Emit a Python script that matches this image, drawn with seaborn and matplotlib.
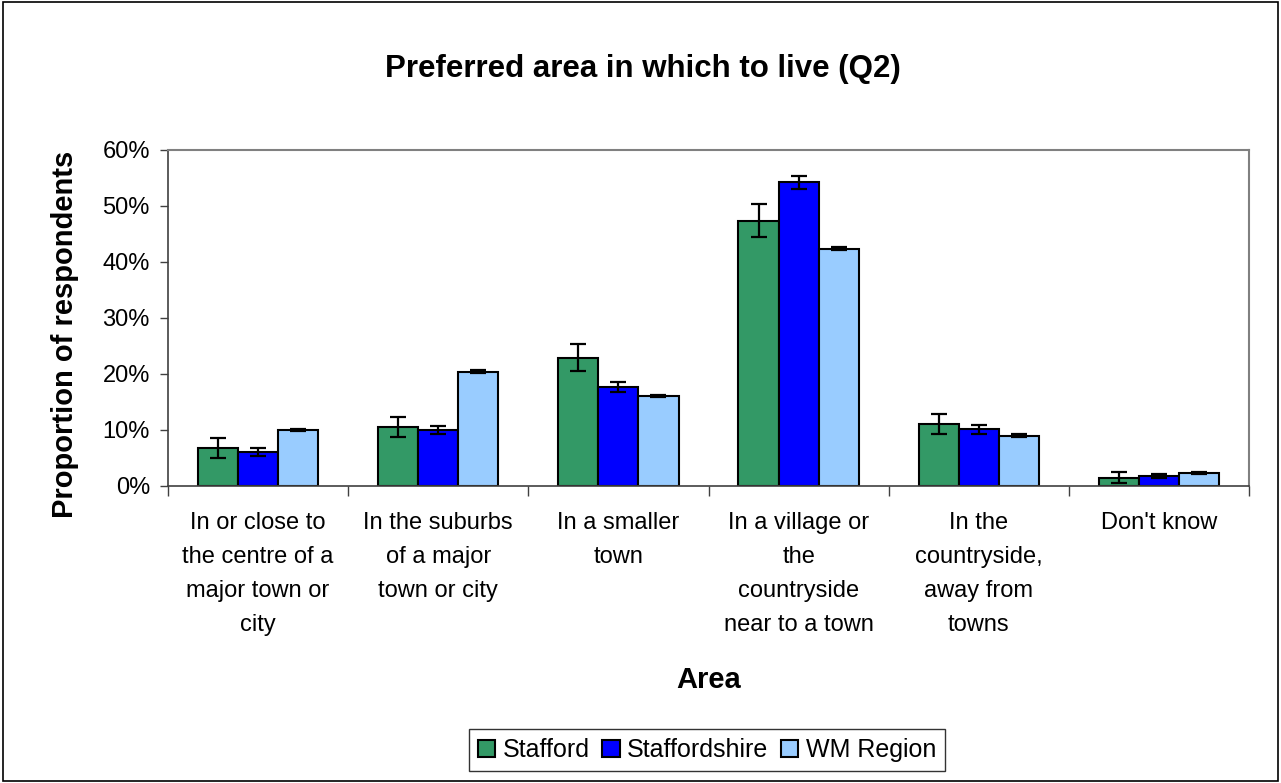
import numpy as np
import pandas as pd
import seaborn as sns
import matplotlib.pyplot as plt
from matplotlib.patches import Rectangle
from matplotlib.ticker import PercentFormatter, FixedLocator

areas = [
    "In or close to\nthe centre of a\nmajor town or\ncity",
    "In the suburbs\nof a major\ntown or city",
    "In a smaller\ntown",
    "In a village or\nthe\ncountryside\nnear to a town",
    "In the\ncountryside,\naway from\ntowns",
    "Don't know",
]
series = ["Stafford", "Staffordshire", "WM Region"]
stafford = [6.8, 10.5, 22.9, 47.4, 11.1, 1.5]
staffordshire = [6.1, 10.0, 17.6, 54.2, 10.1, 1.8]
wm_region = [10.0, 20.4, 16.1, 42.4, 9.0, 2.3]
stafford_err = [1.8, 1.8, 2.4, 2.9, 1.8, 1.0]
staffordshire_err = [0.7, 0.8, 0.9, 1.1, 0.75, 0.3]
wm_region_err = [0.2, 0.25, 0.2, 0.2, 0.2, 0.2]
colors = ["#339966", "#0000FF", "#99CCFF"]

sns.set_style("white")
plt.rcParams["font.family"] = ["Liberation Sans", "DejaVu Sans"]
plt.rcParams.update({"text.color": "black", "axes.labelcolor": "black",
                     "xtick.color": "black", "ytick.color": "black"})

df = pd.DataFrame({
    "Area": np.repeat(areas, 3),
    "Series": series * len(areas),
    "Value": np.column_stack([stafford, staffordshire, wm_region]).ravel(),
})

fig = plt.figure(figsize=(12.81, 7.83), dpi=100)
ax = fig.add_axes([168 / 1281, 1 - 486 / 783, (1249 - 168) / 1281, (486 - 150) / 783])

sns.barplot(data=df, x="Area", y="Value", hue="Series", hue_order=series,
            order=areas, palette=colors, width=0.667, edgecolor="black",
            linewidth=1.5, saturation=1, errorbar=None, ax=ax)

# error bars: patches come out series by series, same order as the err lists
bars = [p for p in ax.patches if p.get_height() > 0]
xs = [p.get_x() + p.get_width() / 2 for p in bars]
hs = [p.get_height() for p in bars]
err_all = stafford_err + staffordshire_err + wm_region_err
ax.errorbar(xs, hs, yerr=err_all, fmt="none", ecolor="black",
            elinewidth=1.6, capsize=5.5, capthick=1.6, zorder=5)

ax.set_ylim(0, 60)
ax.set_xlim(-0.5, len(areas) - 0.5)
ax.yaxis.set_major_formatter(PercentFormatter(decimals=0))
ax.set_yticks(range(0, 61, 10))
ax.xaxis.set_minor_locator(FixedLocator(np.arange(-0.5, len(areas), 1)))
ax.tick_params(axis="x", which="major", length=0, pad=19, labelsize=17)
ax.tick_params(axis="x", which="minor", length=7, width=1, color="#404040", bottom=True)
ax.tick_params(axis="y", length=6, width=1, color="#404040", left=True, labelsize=17, pad=7)
for lbl in ax.get_xticklabels():
    lbl.set_linespacing(1.7)
    lbl.set_verticalalignment("top")

for side in ["left", "bottom"]:
    ax.spines[side].set_color("#404040")
    ax.spines[side].set_linewidth(1.2)
for side in ["top", "right"]:
    ax.spines[side].set_color("#808080")
    ax.spines[side].set_linewidth(1.5)

ax.set_xlabel("Area", fontsize=21, fontweight="bold")
ax.xaxis.set_label_coords(0.5, (486 - 680) / 336)
ax.xaxis.label.set_va("center")
ax.set_ylabel("Proportion of respondents", fontsize=21, fontweight="bold")
ax.yaxis.set_label_coords((65 - 168) / 1081, (486 - 334) / 336)
ax.yaxis.label.set_va("center")
fig.text(643 / 1281, 1 - 69 / 783, "Preferred area in which to live (Q2)",
         ha="center", va="center", fontsize=22.5, fontweight="bold")

ax.legend(loc="center", bbox_to_anchor=(707 / 1281, 1 - 750 / 783),
          bbox_transform=fig.transFigure, ncol=3, frameon=True, fancybox=False,
          edgecolor="black", fontsize=18, handlelength=0.7, handleheight=0.7,
          handletextpad=0.3, columnspacing=0.5, borderpad=0.35)
ax.get_legend().get_frame().set_linewidth(1)

fig.patches.append(Rectangle((0.002, 0.002), 0.996, 0.996, transform=fig.transFigure,
                             fill=False, edgecolor="black", linewidth=1.2))

fig.savefig("out.png", dpi=100)
